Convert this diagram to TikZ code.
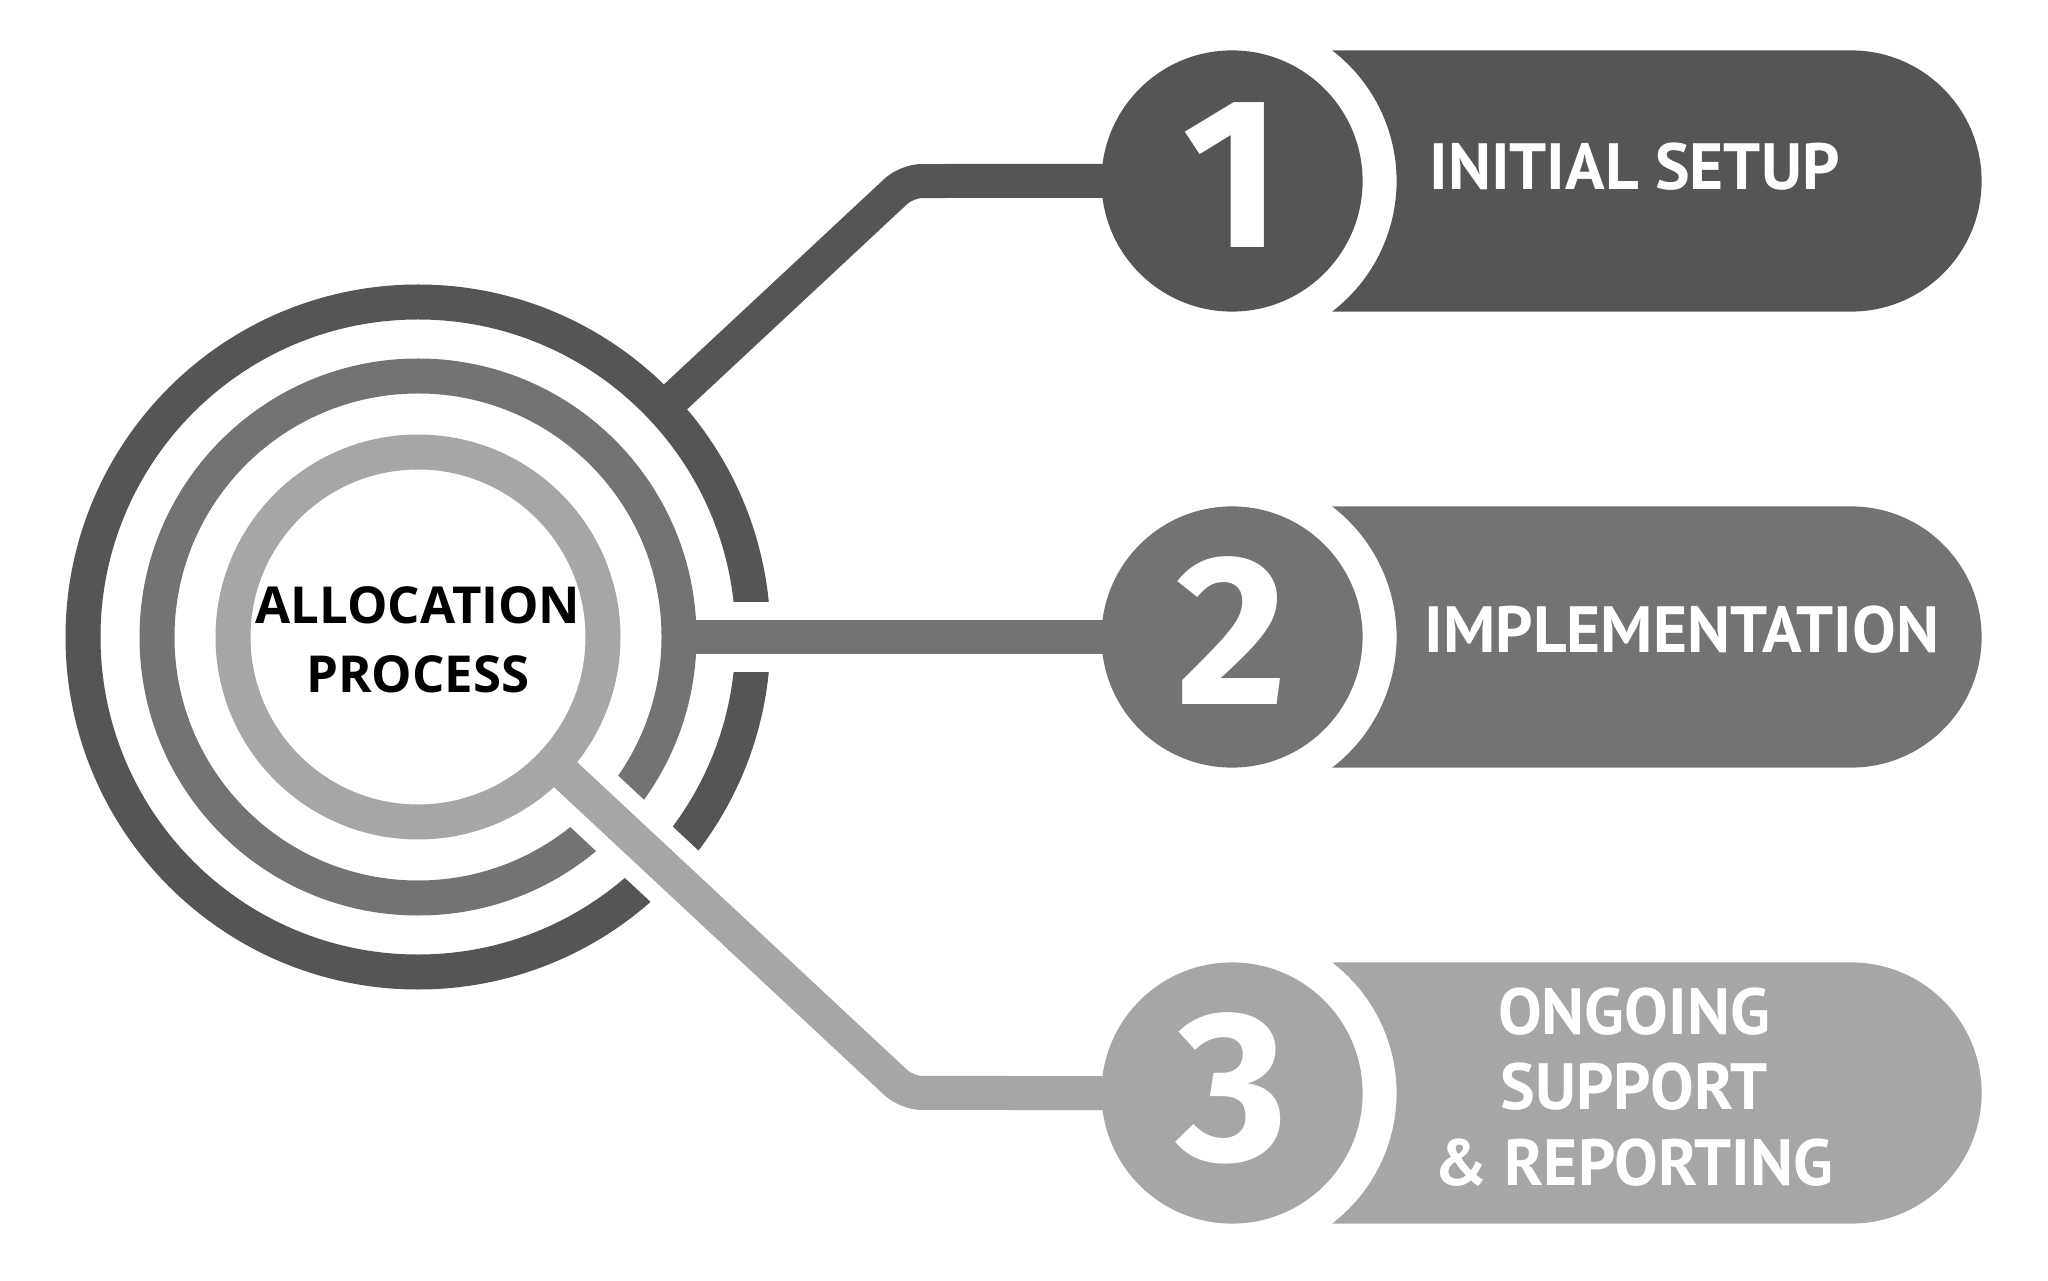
\documentclass[tikz,border=0pt]{standalone}
\usepackage{fontspec}
\usetikzlibrary{calc}
\newfontfamily\ptsans{PT Sans}
\newfontfamily\firasans{Fira Sans}
\newfontfamily\opensans{Open Sans}
\definecolor{darkgrey}{HTML}{555555}
\definecolor{midgrey}{HTML}{737373}
\definecolor{lightgrey}{HTML}{A6A6A6}
\tikzset{
  ring/.style={line width=3.5mm},
  link/.style={line width=3.4mm, rounded corners=1.5mm, shorten >=-1mm},
  numdisc/.style={circle, minimum size=26.12mm, inner sep=0pt, text=white, text depth=1.2mm,
    font=\firasans\bfseries\fontsize{61pt}{61pt}\selectfont},
  pilltext/.style={text=white, align=center,
    font=\ptsans\bfseries\fontsize{18.6pt}{21.55pt}\selectfont},
  hubtext/.style={text=black, align=center,
    font=\opensans\bfseries\fontsize{14.5pt}{19.5pt}\selectfont},
}
\begin{document}
\begin{tikzpicture}[x=0.1mm,y=0.1mm]
\useasboundingbox (0,0) rectangle (2048,1280);
\fill[white] (0,0) rectangle (2048,1280);
\coordinate (hub) at (418,643);

% numbered discs
\node[numdisc,fill=darkgrey] (num1) at (1232,1099) {1};
\node[numdisc,fill=midgrey] (num2) at (1232,643) {2};
\node[numdisc,fill=lightgrey] (num3) at (1232,187) {3};

% pills, hollowed round the discs
\fill[darkgrey] ($(num1)+(52.5:164.6)$) -- ($(num1)+(619,130.6)$) arc[start angle=90,end angle=-90,radius=130.6]
  -- ($(num1)+(-52.5:164.6)$) arc[start angle=-52.5,end angle=52.5,radius=164.6] -- cycle;
\fill[midgrey] ($(num2)+(52.5:164.6)$) -- ($(num2)+(619,130.6)$) arc[start angle=90,end angle=-90,radius=130.6]
  -- ($(num2)+(-52.5:164.6)$) arc[start angle=-52.5,end angle=52.5,radius=164.6] -- cycle;
\fill[lightgrey] ($(num3)+(52.5:164.6)$) -- ($(num3)+(619,130.6)$) arc[start angle=90,end angle=-90,radius=130.6]
  -- ($(num3)+(-52.5:164.6)$) arc[start angle=-52.5,end angle=52.5,radius=164.6] -- cycle;

% rings and links
\draw[ring,darkgrey] (hub) circle[radius=335];
\draw[link,darkgrey] ($(hub)+(43:335)$) -- ($(hub)+(43:668.6)$) -- (num1);
\fill[white] ($(hub)+(300,-34.6)$) rectangle ++(75,69.2);
\draw[ring,midgrey] (hub) circle[radius=261];
\draw[link,midgrey] ($(hub)+(261,0)$) -- (num2);
\draw[white,line width=7mm] ($(hub)+(-43:215)$) -- ($(hub)+(-43:380)$);
\draw[ring,lightgrey] (hub) circle[radius=185];
\draw[link,lightgrey] ($(hub)+(-43:185)$) -- ($(hub)+(-43:668.6)$) -- (num3);

% texts
\node[hubtext] (title) at (418,640) {ALLOCATION\\PROCESS};
\node[pilltext] (lbl1) at (1634.5,1113.5) {INITIAL SETUP};
\node[pilltext] (lbl2) at (1682,650.5) {IMPLEMENTATION};
\node[pilltext] (lbl3) at (1634,193) {ONGOING\\SUPPORT\\\&~REPORTING};
\end{tikzpicture}
\end{document}
